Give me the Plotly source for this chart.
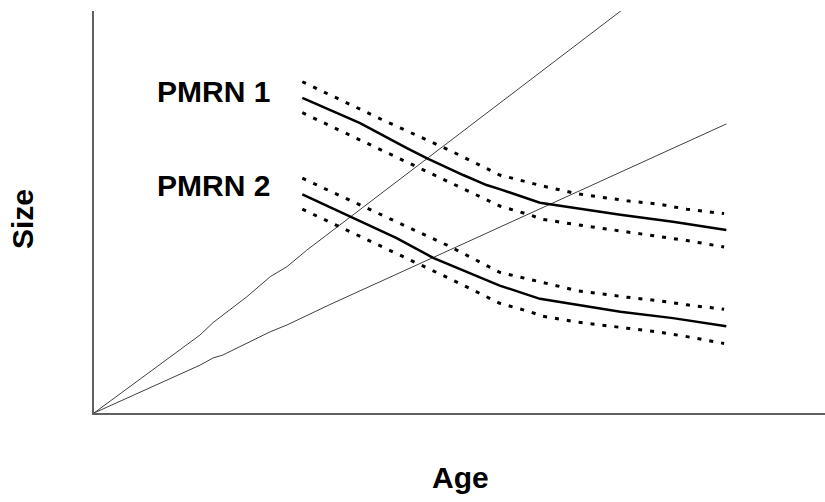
import plotly.graph_objects as go

# Growth trajectories
g1_age = [0, 1.45, 1.63, 2.09, 2.41, 2.64, 2.91, 7.22]
g1_size = [0, 1.94, 2.25, 2.89, 3.39, 3.64, 4.05, 10.02]
g2_age = [0, 1.45, 1.63, 1.76, 2.41, 2.64, 3.23, 8.65]
g2_size = [0, 1.19, 1.37, 1.44, 2.02, 2.19, 2.70, 7.19]

# PMRN 1
p1_age = [2.85, 3.64, 4.28, 4.55, 5.05, 5.37, 5.55, 6.10, 7.20, 7.92, 8.65]
p1_mid = [7.84, 7.21, 6.59, 6.34, 5.92, 5.67, 5.57, 5.23, 4.93, 4.76, 4.55]
p1_up_age = [2.85, 3.95, 4.87, 5.55, 6.13, 6.62, 7.29, 7.74, 8.11, 8.62]
p1_up = [8.24, 7.29, 6.53, 5.92, 5.65, 5.45, 5.28, 5.19, 5.07, 4.96]
p1_lo_age = [2.85, 3.95, 4.87, 5.55, 5.96, 6.13, 6.62, 7.29, 7.74, 8.11, 8.62]
p1_lo = [7.47, 6.53, 5.73, 5.15, 4.93, 4.82, 4.68, 4.50, 4.39, 4.29, 4.13]

# PMRN 2
p2_age = [2.85, 3.50, 4.14, 4.64, 5.55, 6.10, 7.20, 7.92, 8.65]
p2_mid = [5.44, 4.90, 4.35, 3.86, 3.17, 2.84, 2.52, 2.36, 2.16]
p2_up_age = [2.85, 3.95, 4.87, 5.55, 6.13, 6.62, 7.29, 7.74, 8.11, 8.62]
p2_up = [5.84, 4.91, 4.14, 3.50, 3.25, 3.04, 2.88, 2.79, 2.69, 2.58]
p2_lo_age = [2.85, 3.95, 4.87, 5.55, 5.96, 6.13, 6.62, 7.29, 7.74, 8.11, 8.62]
p2_lo = [5.07, 4.12, 3.34, 2.73, 2.52, 2.41, 2.26, 2.11, 2.01, 1.90, 1.73]

labels = ["PMRN 1", "PMRN 2"]
label_pos = [(1.64, 8.01), (1.64, 5.65)]

fig = go.Figure()
thin = dict(color="#404040", width=1)
solid = dict(color="black", width=2.5)
dot = dict(color="black", width=3, dash="4px,8px")

fig.add_trace(go.Scatter(x=g1_age, y=g1_size, mode="lines", line=thin))
fig.add_trace(go.Scatter(x=g2_age, y=g2_size, mode="lines", line=thin))
fig.add_trace(go.Scatter(x=p1_age, y=p1_mid, mode="lines", line=solid))
fig.add_trace(go.Scatter(x=p1_up_age, y=p1_up, mode="lines", line=dot))
fig.add_trace(go.Scatter(x=p1_lo_age, y=p1_lo, mode="lines", line=dot))
fig.add_trace(go.Scatter(x=p2_age, y=p2_mid, mode="lines", line=solid))
fig.add_trace(go.Scatter(x=p2_up_age, y=p2_up, mode="lines", line=dot))
fig.add_trace(go.Scatter(x=p2_lo_age, y=p2_lo, mode="lines", line=dot))

font = dict(family="Liberation Sans, Arial, sans-serif", size=30, color="black")
for lab, (x, y) in zip(labels, label_pos):
    fig.add_annotation(x=x, y=y, text="<b>%s</b>" % lab, showarrow=False,
                       font=font, xanchor="center", yanchor="middle")

fig.add_annotation(xref="paper", yref="paper", x=(460 - 94) / 731, y=(413 - 477) / 402,
                   text="<b>Age</b>", showarrow=False, font=font,
                   xanchor="center", yanchor="middle")
fig.add_annotation(xref="paper", yref="paper", x=(22 - 94) / 731, y=(413 - 219) / 402,
                   text="<b>Size</b>", showarrow=False, font=font, textangle=-90,
                   xanchor="center", yanchor="middle")

axis_common = dict(showline=True, linecolor="#606060", linewidth=1.5, showgrid=False,
                   zeroline=False, showticklabels=False, ticks="", mirror=False)
fig.update_layout(
    width=825, height=502,
    margin=dict(l=94, r=0, t=11, b=89),
    plot_bgcolor="white", paper_bgcolor="white",
    showlegend=False,
    xaxis=dict(range=[0, 10], **axis_common),
    yaxis=dict(range=[0, 10], **axis_common),
)
fig.write_html("out.html")
